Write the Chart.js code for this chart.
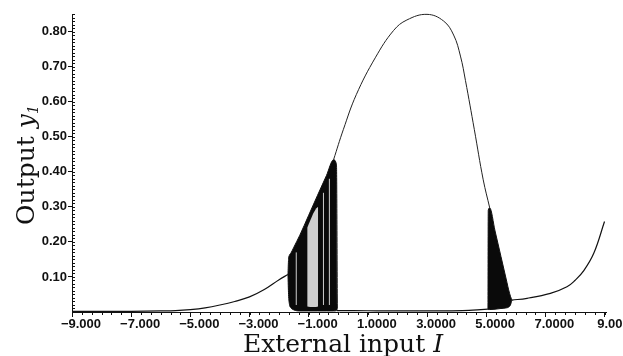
<!DOCTYPE html>
<html>
<head>
<meta charset="utf-8">
<script src="https://cdn.jsdelivr.net/npm/chart.js@4.4.1/dist/chart.umd.min.js"></script>
<style>
  html, body { margin: 0; padding: 0; background: #fff; }
  #wrap { width: 623px; height: 356px; position: relative; }
</style>
</head>
<body>
<div id="wrap"><canvas id="bifChart"></canvas></div>
<script>
// tick labels as printed on the original axes
var xTickVals = [-9, -7, -5, -3, -1, 1, 3, 5, 7, 9];
var xTickLabels = ["\u22129.000", "\u22127.000", "\u22125.000", "\u22123.000", "\u22121.000", "1.0000", "3.0000", "5.0000", "7.0000", "9.000"];
var yTickVals = [0.1, 0.2, 0.3, 0.4, 0.5, 0.6, 0.7, 0.8];
var yTickLabels = ["0.10", "0.20", "0.30", "0.40", "0.50", "0.60", "0.70", "0.80"];

// stable branch, left of the first chaotic band
var leftI = [-9, -7, -6, -5.5, -5, -4.5, -4, -3.5, -3, -2.5, -2, -1.7];
var leftY = [0.002, 0.002, 0.003, 0.004, 0.007, 0.012, 0.02, 0.03, 0.043, 0.064, 0.092, 0.107];

// first chaotic band (upper / lower edge)
var bandAI = [-1.70, -1.68, -1.65, -1.6, -1.5, -1.3, -1.0, -0.7, -0.4, -0.16, -0.06, -0.03];
var bandATop = [0.107, 0.15, 0.162, 0.168, 0.185, 0.219, 0.276, 0.333, 0.389, 0.434, 0.42, 0.01];
var bandABot = [0.107, 0.05, 0.022, 0.012, 0.006, 0.003, 0.003, 0.003, 0.003, 0.003, 0.004, 0.01];

// lighter periodic window inside the first band
var windowI = [-1.05, -0.95, -0.85, -0.75, -0.68];
var windowTop = [0.24, 0.26, 0.28, 0.295, 0.30];
var windowBot = [0.016, 0.014, 0.014, 0.014, 0.016];

// thin white gaps in the dark stripe
var gapI = [-1.42, -0.5, -0.3];
var gapTop = [0.17, 0.34, 0.38];

// big upper branch (hump)
var humpI = [-0.16, 0.17, 0.61, 1.25, 1.87, 2.32, 3.0, 3.56, 3.9, 4.13, 4.3, 4.6, 4.9, 5.12];
var humpY = [0.434, 0.52, 0.62, 0.725, 0.803, 0.833, 0.849, 0.83, 0.79, 0.73, 0.66, 0.52, 0.377, 0.297];

// low branch between the two bands
var midI = [-0.05, 0.5, 1.5, 2.5, 3.5, 4.2, 4.7, 5.06];
var midY = [0.004, 0.004, 0.003, 0.003, 0.003, 0.004, 0.006, 0.008];

// second chaotic band
var bandBI = [5.06, 5.07, 5.12, 5.3, 5.5, 5.7, 5.76, 5.82, 5.87];
var bandBTop = [0.008, 0.29, 0.297, 0.231, 0.158, 0.085, 0.063, 0.045, 0.034];
var bandBBot = [0.008, 0.007, 0.007, 0.008, 0.01, 0.012, 0.014, 0.02, 0.034];

// stable branch right of the second band
var rightI = [5.87, 6.38, 7.17, 7.73, 8.0, 8.3, 8.64, 9.0];
var rightY = [0.034, 0.039, 0.053, 0.072, 0.09, 0.118, 0.168, 0.258];

function pts(xs, ys) {
  return xs.map(function (x, i) { return { x: x, y: ys[i] }; });
}

var ink = '#111';
var datasets = [
  { data: pts(leftI, leftY), borderColor: ink, borderWidth: 1.2, tension: 0.4, order: 1 },
  { data: pts(humpI, humpY), borderColor: '#222', borderWidth: 1, tension: 0.4, order: 1 },
  { data: pts(midI, midY), borderColor: ink, borderWidth: 1.2, cubicInterpolationMode: 'monotone', order: 1 },
  { data: pts(rightI, rightY), borderColor: ink, borderWidth: 1.2, tension: 0.4, order: 1 },
  // band A
  { data: pts(bandAI, bandATop), borderColor: ink, borderWidth: 1, backgroundColor: '#0a0a0a', fill: '+1', cubicInterpolationMode: 'monotone', order: 6 },
  { data: pts(bandAI, bandABot), borderColor: ink, borderWidth: 1, cubicInterpolationMode: 'monotone', order: 6 },
  // window
  { data: pts(windowI, windowTop), borderColor: 'rgba(0,0,0,0)', borderWidth: 0, backgroundColor: 'rgba(255,255,255,0.8)', fill: '+1', order: 4 },
  { data: pts(windowI, windowBot), borderColor: 'rgba(0,0,0,0)', borderWidth: 0, order: 4 },
  // band B
  { data: pts(bandBI, bandBTop), borderColor: ink, borderWidth: 1, backgroundColor: '#0a0a0a', fill: '+1', cubicInterpolationMode: 'monotone', order: 6 },
  { data: pts(bandBI, bandBBot), borderColor: ink, borderWidth: 1, cubicInterpolationMode: 'monotone', order: 6 }
];
gapI.forEach(function (g, i) {
  datasets.push({ data: [{ x: g, y: 0.02 }, { x: g, y: gapTop[i] }], borderColor: 'rgba(255,255,255,0.8)', borderWidth: 1, order: 3 });
});
datasets.forEach(function (d) { d.showLine = true; d.pointRadius = 0; d.clip = 2; });

// minor ticks and axis titles drawn through the scales
var extras = {
  id: 'extras',
  afterDraw: function (chart) {
    var c = chart.ctx, xs = chart.scales.x, ys = chart.scales.y, a = chart.chartArea;
    c.save();
    c.strokeStyle = ink;
    c.lineWidth = 1;
    c.beginPath();
    for (var k = 1; k <= 85; k++) {
      var py = Math.round(ys.getPixelForValue(k / 100)) + 0.5;
      c.moveTo(a.left, py); c.lineTo(a.left + 3, py);
    }
    for (var j = 0; j <= 54; j++) {
      var px = Math.round(xs.getPixelForValue(-9 + j / 3)) + 0.5;
      c.moveTo(px, a.bottom); c.lineTo(px, a.bottom + 3);
    }
    c.stroke();

    // x title
    var f1 = '25px "DejaVu Serif"', f2 = 'italic 25px "DejaVu Serif"';
    var t1 = 'External input ', t2 = 'I';
    c.fillStyle = ink;
    c.textBaseline = 'alphabetic';
    c.font = f1; var w1 = c.measureText(t1).width;
    c.font = f2; var w2 = c.measureText(t2).width;
    var x0 = 343 - (w1 + w2) / 2;
    c.font = f1; c.fillText(t1, x0, 352);
    c.font = f2; c.fillText(t2, x0 + w1, 352);

    // y title
    c.translate(34, 165);
    c.rotate(-Math.PI / 2);
    var s1 = 'Output ', s2 = 'y', s3 = '1';
    c.font = f1; var v1 = c.measureText(s1).width;
    c.font = f2; var v2 = c.measureText(s2).width;
    c.font = 'italic 14px "DejaVu Serif"'; var v3 = c.measureText(s3).width;
    var y0 = -(v1 + v2 + v3) / 2;
    c.font = f1; c.fillText(s1, y0, 0);
    c.font = f2; c.fillText(s2, y0 + v1, 0);
    c.font = 'italic 14px "DejaVu Serif"'; c.fillText(s3, y0 + v1 + v2, 4);
    c.restore();
  }
};

var bifChart = new Chart(document.getElementById('bifChart').getContext('2d'), {
  type: 'scatter',
  data: { datasets: datasets },
  options: {
    responsive: true,
    maintainAspectRatio: false,
    animation: false,
    layout: { padding: { left: 0, right: 17, top: 14, bottom: 0 } },
    plugins: { legend: { display: false }, tooltip: { enabled: false } },
    scales: {
      x: {
        type: 'linear', min: -9, max: 9.05,
        afterBuildTicks: function (s) { s.ticks = xTickVals.map(function (v) { return { value: v }; }); },
        afterFit: function (s) { s.height = 44; },
        border: { display: true, color: ink, width: 1 },
        grid: { drawOnChartArea: false, color: ink, tickLength: 5 },
        ticks: {
          autoSkip: false, maxRotation: 0, labelOffset: 9, padding: 0, color: ink,
          font: { family: 'Liberation Sans', size: 13, weight: 'bold' },
          callback: function (v) { var i = xTickVals.indexOf(v); return i < 0 ? '' : xTickLabels[i]; }
        }
      },
      y: {
        type: 'linear', min: 0, max: 0.85,
        afterBuildTicks: function (s) { s.ticks = yTickVals.map(function (v) { return { value: v }; }); },
        afterFit: function (s) { s.width = 72; },
        border: { display: true, color: ink, width: 1 },
        grid: { drawOnChartArea: false, color: ink, tickLength: 4 },
        ticks: {
          padding: 1, color: ink,
          font: { family: 'Liberation Sans', size: 13, weight: 'bold' },
          callback: function (v) {
            for (var i = 0; i < yTickVals.length; i++) if (Math.abs(yTickVals[i] - v) < 1e-6) return yTickLabels[i];
            return '';
          }
        }
      }
    }
  },
  plugins: [extras]
});
</script>
</body>
</html>
